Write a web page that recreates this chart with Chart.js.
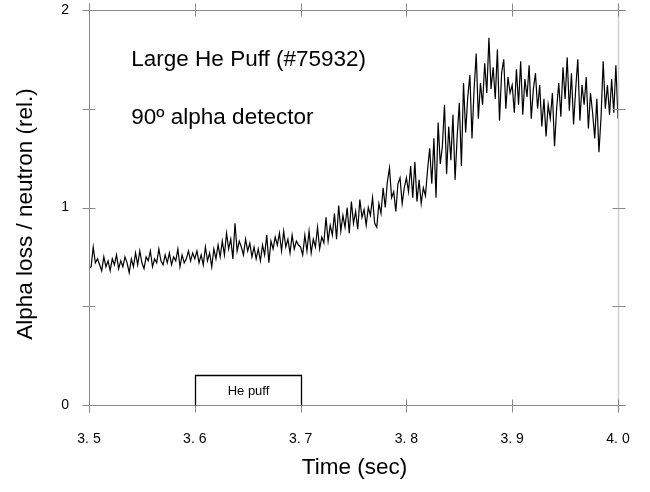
<!DOCTYPE html>
<html>
<head>
<meta charset="utf-8">
<script src="https://cdn.jsdelivr.net/npm/chart.js@4.4.1/dist/chart.umd.min.js"></script>
<style>
  html, body { margin: 0; padding: 0; background: #fff; }
  #wrap { width: 650px; height: 492px; }
</style>
</head>
<body>
<div id="wrap"><canvas id="alpha_loss_chart"></canvas></div>
<script>
"use strict";

// sampling of the trace: 3.500 s onwards, one point every 2 ms
const timeStart = 3.5;
const timeStep = 0.002;

// alpha loss / neutron (rel.) in 0.1 s blocks
const signal_350 = [
  0.69, 0.70, 0.80, 0.72, 0.74, 0.71, 0.68, 0.75, 0.70, 0.73,
  0.68, 0.74, 0.71, 0.76, 0.69, 0.73, 0.70, 0.75, 0.72, 0.67,
  0.74, 0.70, 0.77, 0.71, 0.78, 0.72, 0.69, 0.75, 0.73, 0.78,
  0.70, 0.74, 0.72, 0.79, 0.73, 0.71, 0.76, 0.72, 0.77, 0.71,
  0.75, 0.73, 0.79, 0.70, 0.76, 0.72, 0.74, 0.78, 0.73, 0.77
];
const signal_360 = [
  0.74, 0.78, 0.72, 0.76, 0.71, 0.80, 0.73, 0.77, 0.70, 0.79,
  0.74, 0.81, 0.75, 0.83, 0.76, 0.87, 0.79, 0.84, 0.74, 0.92,
  0.78, 0.83, 0.80, 0.76, 0.84, 0.78, 0.82, 0.75, 0.80, 0.74,
  0.79, 0.73, 0.81, 0.76, 0.86, 0.72, 0.83, 0.79, 0.85, 0.81,
  0.87, 0.78, 0.88, 0.80, 0.84, 0.77, 0.86, 0.79, 0.83, 0.81
];
const signal_370 = [
  0.80, 0.76, 0.86, 0.78, 0.88, 0.77, 0.84, 0.80, 0.90, 0.79,
  0.85, 0.82, 0.95, 0.83, 0.91, 0.86, 0.97, 0.84, 1.01, 0.88,
  0.96, 0.90, 1.00, 0.87, 1.03, 0.92, 0.98, 0.89, 1.04, 0.95,
  0.99, 0.91, 1.00, 0.96, 1.05, 0.92, 0.90, 1.02, 0.97, 1.10,
  1.00, 1.13, 1.20, 1.05, 1.08, 0.98, 1.12, 1.15, 1.02, 1.10
];
const signal_380 = [
  1.15, 1.08, 1.21, 1.05, 1.23, 1.03, 1.14, 1.02, 1.10, 1.06,
  1.19, 1.30, 1.12, 1.35, 1.05, 1.43, 1.22, 1.31, 1.52, 1.17,
  1.41, 1.24, 1.47, 1.14, 1.36, 1.53, 1.21, 1.63, 1.38, 1.56,
  1.67, 1.35, 1.60, 1.78, 1.45, 1.63, 1.52, 1.73, 1.58, 1.86,
  1.60, 1.71, 1.55, 1.80, 1.44, 1.68, 1.75, 1.50, 1.66, 1.58
];
const signal_390 = [
  1.62, 1.48, 1.70, 1.52, 1.74, 1.47, 1.65, 1.56, 1.72, 1.45,
  1.60, 1.68, 1.50, 1.62, 1.41, 1.55, 1.36, 1.52, 1.45, 1.58,
  1.31, 1.50, 1.63, 1.46, 1.71, 1.55, 1.76, 1.49, 1.68, 1.42,
  1.60, 1.75, 1.44, 1.62, 1.52, 1.66, 1.40, 1.58, 1.48, 1.35,
  1.55, 1.28, 1.46, 1.74, 1.50, 1.62, 1.47, 1.65, 1.48, 1.72,
  1.45
];

const xTickValues = [3.5, 3.6, 3.7, 3.8, 3.9, 4.0];
const yTickValues = [0, 0.5, 1, 1.5, 2];
const yLabelValues = [0, 1, 2];

const puffStart = 3.6;
const puffEnd = 3.7;
const puffHeight = 0.15;

const noteLines = ["Large He Puff (#75932)", "90\u00BA alpha detector"];
const xTitle = "Time (sec)";
const yTitle = "Alpha loss / neutron (rel.)";

const signal = [].concat(signal_350, signal_360, signal_370, signal_380, signal_390);
const points = signal.map((v, i) => ({ x: +(timeStart + i * timeStep).toFixed(3), y: v }));

const axisColor = "#8a8a8a";
const textFont = "Arial, 'Liberation Sans', sans-serif";

const framePlugin = {
  id: "frame",
  afterDraw(chart) {
    const ctx = chart.ctx;
    const a = chart.chartArea;
    const xs = chart.scales.x;
    const ys = chart.scales.y;
    const L = Math.round(a.left) + 0.5;
    const R = Math.round(a.right) + 0.5;
    const T = Math.round(a.top) + 0.5;
    const B = Math.round(a.bottom) + 0.5;
    ctx.save();

    // axes and frame
    ctx.strokeStyle = axisColor;
    ctx.lineWidth = 1;
    ctx.beginPath();
    ctx.moveTo(L, T - 7); ctx.lineTo(L, B + 7);
    ctx.moveTo(L - 7, B); ctx.lineTo(R + 7, B);
    ctx.moveTo(L - 7, T); ctx.lineTo(R + 7, T);
    ctx.stroke();
    ctx.strokeStyle = "#cdcdcd";
    ctx.lineWidth = 1.5;
    ctx.beginPath();
    ctx.moveTo(R, T - 7); ctx.lineTo(R, B + 7);
    ctx.stroke();

    // tick marks crossing each side
    ctx.strokeStyle = axisColor;
    ctx.lineWidth = 1;
    ctx.beginPath();
    xTickValues.forEach(v => {
      const px = Math.round(xs.getPixelForValue(v)) + 0.5;
      ctx.moveTo(px, B - 6); ctx.lineTo(px, B + 7);
      ctx.moveTo(px, T - 7); ctx.lineTo(px, T + 6);
    });
    yTickValues.forEach(v => {
      const py = Math.round(ys.getPixelForValue(v)) + 0.5;
      ctx.moveTo(L - 7, py); ctx.lineTo(L + 6, py);
      ctx.moveTo(R - 6, py); ctx.lineTo(R + 7, py);
    });
    ctx.stroke();

    // He puff box
    const bx0 = Math.round(xs.getPixelForValue(puffStart)) + 0.5;
    const bx1 = Math.round(xs.getPixelForValue(puffEnd)) + 0.5;
    const by0 = Math.round(ys.getPixelForValue(puffHeight)) + 0.5;
    ctx.strokeStyle = "#000";
    ctx.lineWidth = 1.3;
    ctx.beginPath();
    ctx.moveTo(bx0, B); ctx.lineTo(bx0, by0); ctx.lineTo(bx1, by0); ctx.lineTo(bx1, B);
    ctx.stroke();
    ctx.fillStyle = "#000";
    ctx.font = "13px " + textFont;
    ctx.textAlign = "center";
    ctx.textBaseline = "middle";
    ctx.fillText("He puff", (bx0 + bx1) / 2, (by0 + B) / 2 + 1);

    // notes
    ctx.font = "22.5px " + textFont;
    ctx.textAlign = "left";
    ctx.textBaseline = "alphabetic";
    ctx.fillText(noteLines[0], xs.getPixelForValue(3.54), ys.getPixelForValue(1.716));
    ctx.fillText(noteLines[1], xs.getPixelForValue(3.54), ys.getPixelForValue(1.425));

    // axis titles
    ctx.textAlign = "center";
    ctx.textBaseline = "middle";
    ctx.fillText(xTitle, (a.left + a.right) / 2 + 1, 468);
    ctx.translate(26, (T + B) / 2 + 6);
    ctx.rotate(-Math.PI / 2);
    ctx.fillText(yTitle, 0, 0);
    ctx.restore();
  }
};

const alphaLossChartContext = document
  .getElementById("alpha_loss_chart")
  .getContext("2d");

const alphaLossChartConfig = {
  type: "line",
  data: {
    datasets: [{
      data: points,
      borderColor: "#000",
      borderWidth: 1.2,
      pointRadius: 0,
      tension: 0,
      fill: false
    }]
  },
  options: {
    responsive: true,
    maintainAspectRatio: false,
    animation: false,
    events: [],
    layout: { padding: { top: 10, right: 32, left: 0, bottom: 0 } },
    plugins: { legend: { display: false }, tooltip: { enabled: false } },
    scales: {
      x: {
        type: "linear",
        min: 3.5,
        max: 4.0,
        afterFit: scale => {
          scale.height = 87;
          scale.paddingLeft = 0;
          scale.paddingRight = 0;
        },
        afterBuildTicks: scale => { scale.ticks = xTickValues.map(v => ({ value: v })); },
        border: { display: false },
        grid: { display: false },
        ticks: {
          padding: 18,
          color: "#000",
          font: { family: textFont, size: 14 },
          maxRotation: 0,
          callback: v => v.toFixed(1).replace(".", ". ")
        }
      },
      y: {
        type: "linear",
        min: 0,
        max: 2,
        afterFit: scale => {
          scale.width = 89;
          scale.paddingTop = 0;
          scale.paddingBottom = 0;
        },
        afterBuildTicks: scale => { scale.ticks = yLabelValues.map(v => ({ value: v })); },
        border: { display: false },
        grid: { display: false },
        ticks: {
          padding: 12,
          color: "#000",
          font: { family: textFont, size: 14 },
          callback: v => String(v)
        }
      }
    }
  },
  plugins: [framePlugin]
};

const alphaLossChart = new Chart(alphaLossChartContext, alphaLossChartConfig);
</script>
</body>
</html>
